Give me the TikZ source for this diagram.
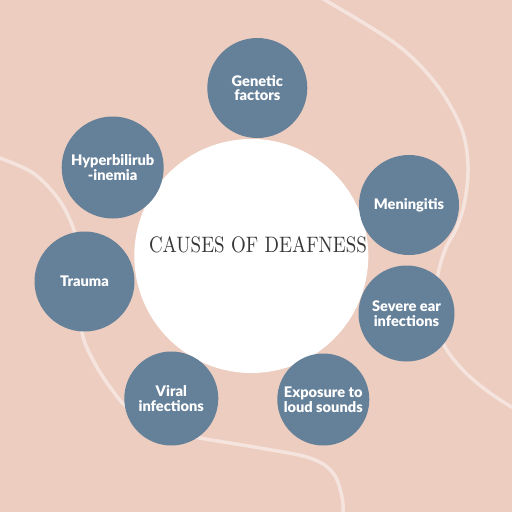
\documentclass[tikz,border=0pt]{standalone}
\usepackage{fontspec}
\usepackage{graphicx}
\newfontfamily\circfont{Lato}[BoldFont={Lato Black}]
\definecolor{bgpeach}{RGB}{237,205,192}
\definecolor{causeblue}{RGB}{101,128,153}
\definecolor{curvecol}{RGB}{245,228,222}
\definecolor{titlecol}{RGB}{55,55,55}
\begin{document}
\begin{tikzpicture}[x=1pt,y=-1pt,
  cause/.style={circle, fill=causeblue, inner sep=0pt, minimum size=#1, align=center,
    text=white, font=\circfont\bfseries\fontsize{14.6}{14.5}\selectfont},
  bgcurve/.style={draw=curvecol, line width=3.5pt, line cap=round}]
\fill[bgpeach] (0,0) rectangle (512,512);
\useasboundingbox (0,0) rectangle (512,512);
% background curves
\draw[bgcurve] plot[smooth, tension=0.6] coordinates {(318,-4) (325,0) (367,25) (400,47) (427,73) (447,100) (463,133) (468,167) (465,200) (457,227) (445,250) (437,280) (437,312) (443,343) (463,370) (490,393) (520,412)};
\draw[bgcurve] plot[smooth, tension=0.6] coordinates {(-6,156) (0,158) (33,173) (57,197) (70,220) (76,240) (79,285) (82,332) (93,360) (110,387) (130,410) (165,430) (200,438) (260,448) (310,458) (333,473) (342,497) (343,516)};
% centre
\node[circle, fill=white, minimum size=234pt, inner sep=0pt] (centre) at (251.3,256) {};
\node[anchor=base, text=titlecol, inner sep=0pt] (title) at (258,252.7) {\resizebox{218pt}{16pt}{CAUSES OF DEAFNESS}};
% causes
\node[cause=100pt] (genetic) at (257.3,88) {Genetic\\factors};
\node[cause=102pt] (hyper) at (112.7,167.5) {Hyperbilirub\\-inemia};
\node[cause=100pt] (mening) at (409,205) {Meningitis};
\node[cause=100pt] (trauma) at (84.5,281.5) {Trauma};
\node[cause=96pt] (severe) at (406.5,313.5) {Severe ear\\infections};
\node[cause=94pt] (viral) at (171.3,398.5) {Viral\\infections};
\node[cause=92pt] (loud) at (323.3,399.5) {Exposure to\\loud sounds};
\end{tikzpicture}
\end{document}
